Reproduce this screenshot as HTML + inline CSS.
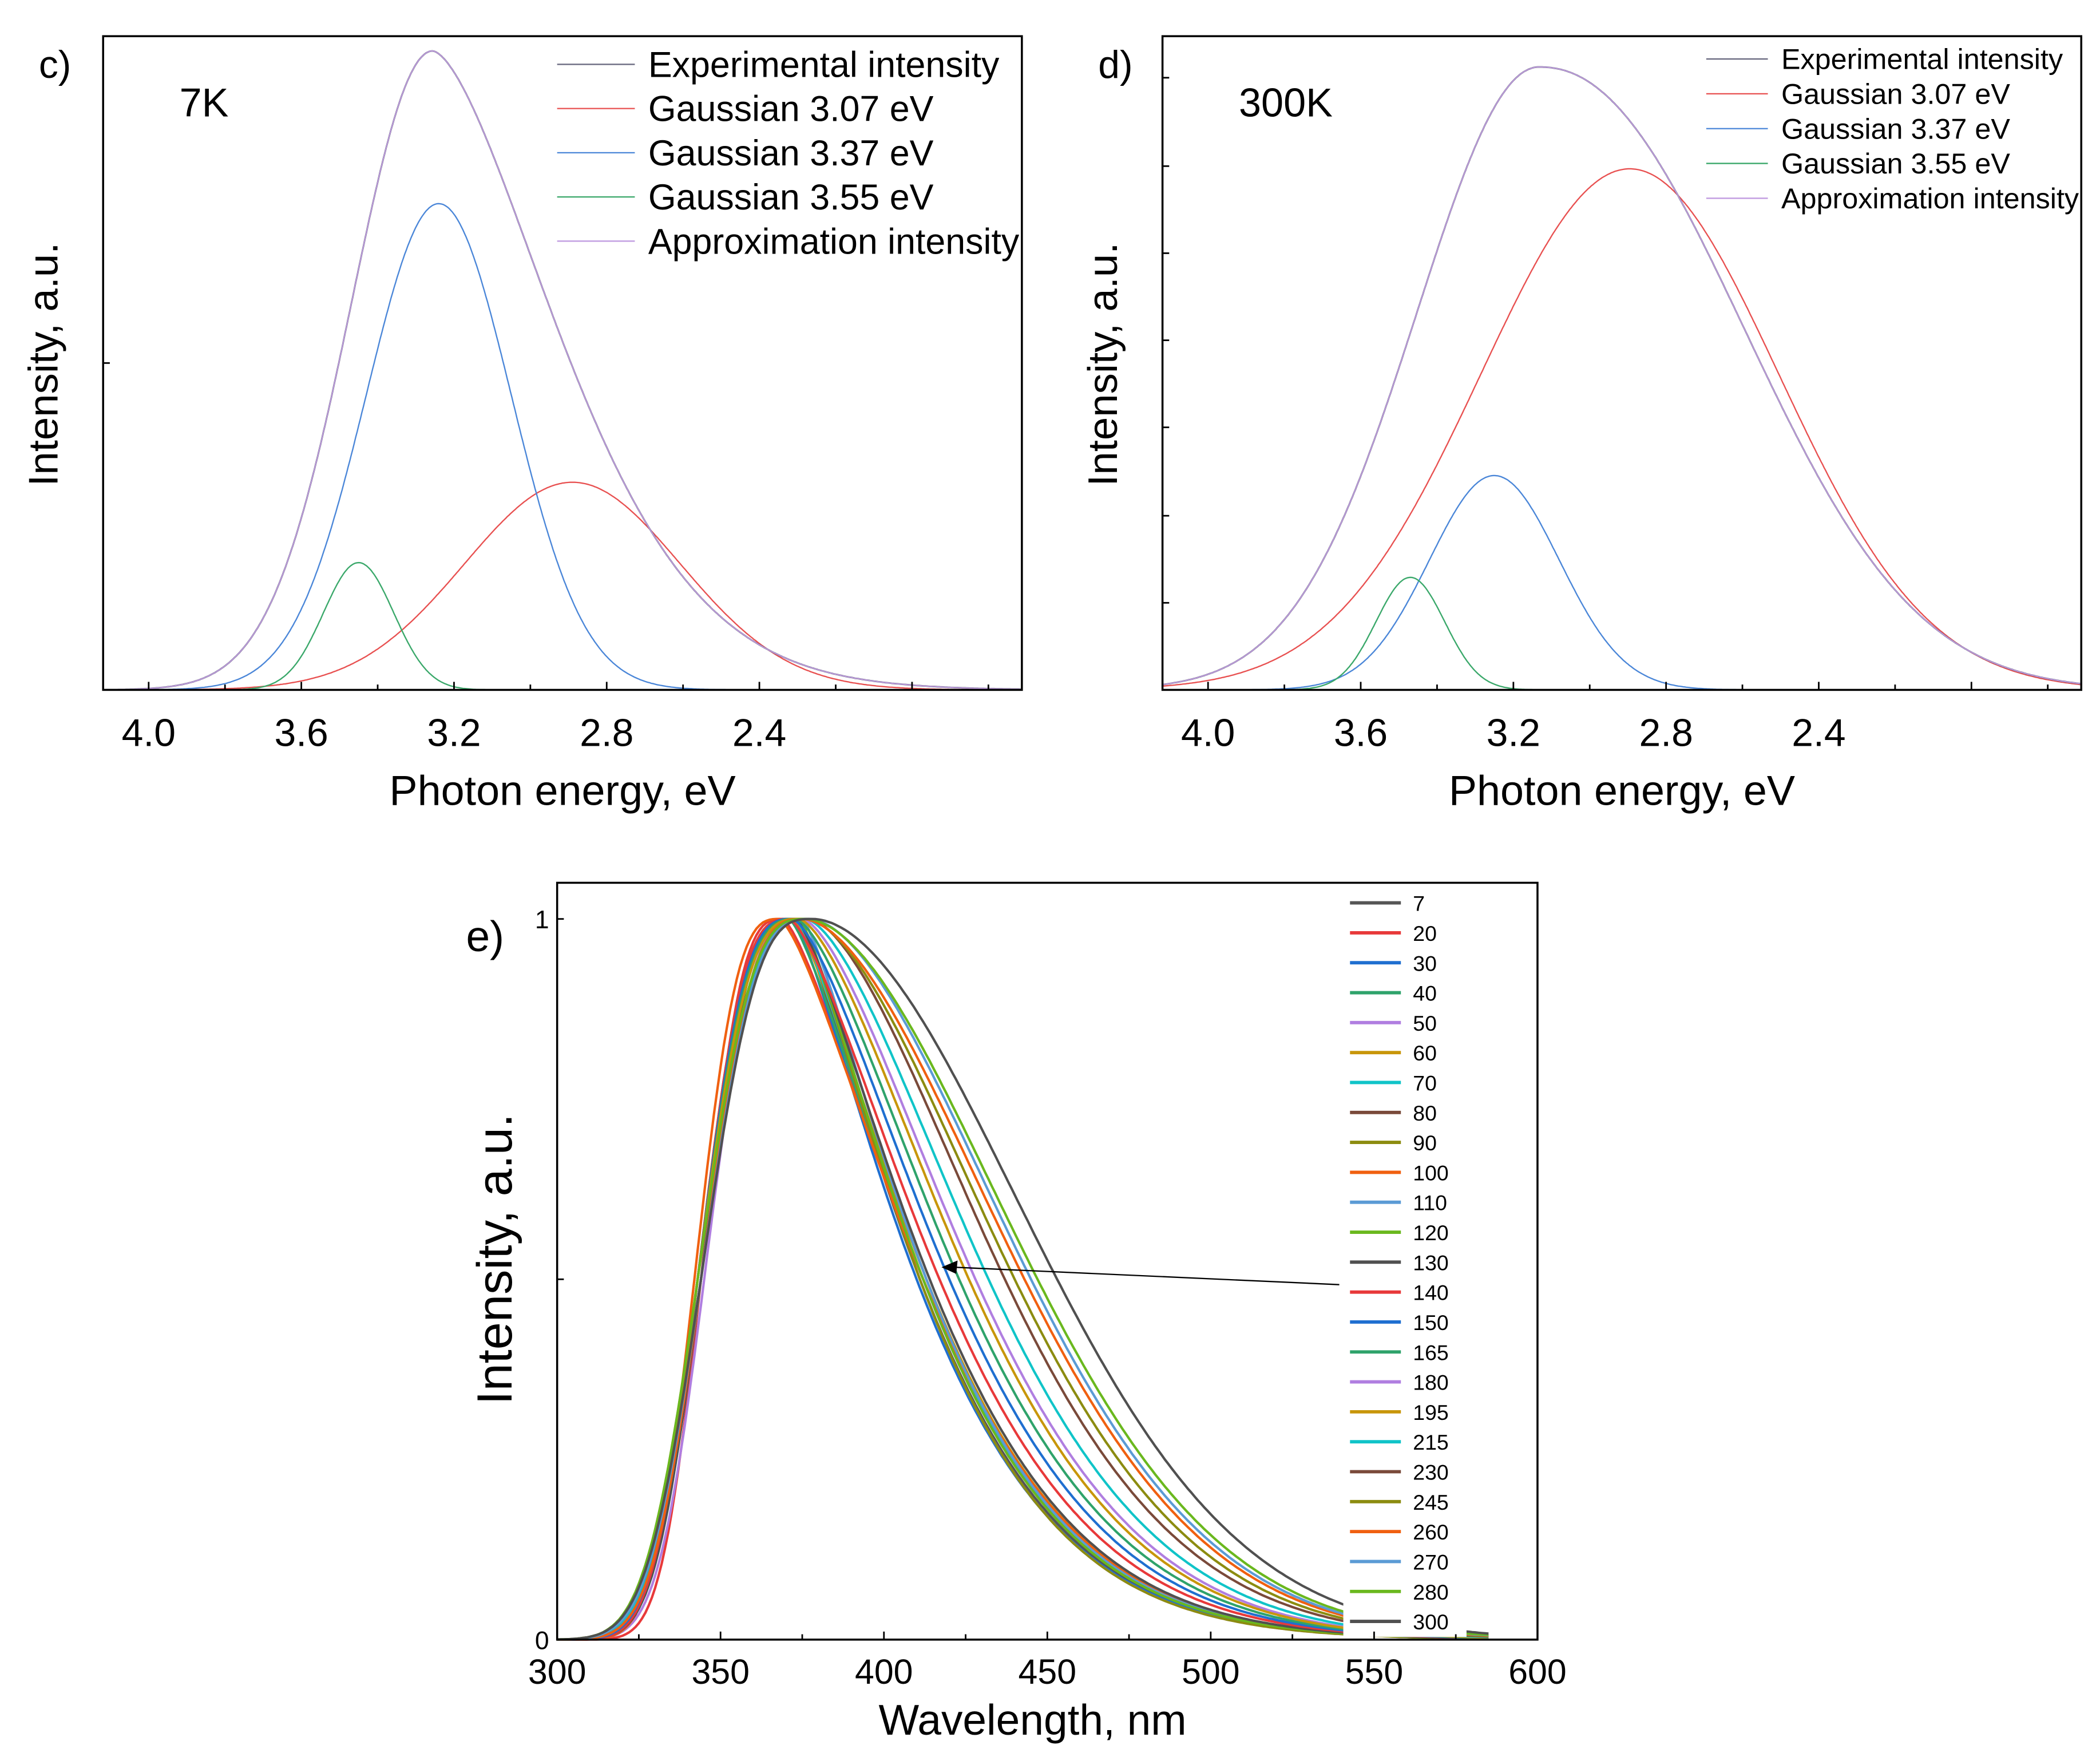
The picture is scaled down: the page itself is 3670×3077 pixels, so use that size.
<!DOCTYPE html>
<html><head><meta charset="utf-8"><style>
html,body{margin:0;padding:0;background:#fff}
svg{display:block}
text{font-family:"Liberation Sans",sans-serif;fill:#000}
</style></head><body>
<svg id="fig" width="3670" height="3077" viewBox="0 0 1568 1314.6" xmlns="http://www.w3.org/2000/svg">
<rect width="1568" height="1315" fill="#fff"/>
<g id="pc"></g>
<g id="pd"></g>
<g id="pe"></g>
</svg>
<script>
// Panel c (7K): gaussian components [center eV, height a.u., sigma eV]
const cCenters = [2.89, 3.24, 3.45];
const cHeights = [155, 363, 95];
const cSigmas = [0.283, 0.19, 0.092];
const cLabels = ["Gaussian 3.07 eV","Gaussian 3.37 eV","Gaussian 3.55 eV"];
// Panel c measured total: [peak eV, height, left half-width eV, right half-width eV, right shape exponent]
const cTotal = [3.256, 477, 0.25, 0.37, 1.6];
// Panel d (300K)
const dCenters = [2.895, 3.25, 3.47];
const dHeights = [389, 160, 84];
const dSigmas = [0.39, 0.17, 0.09];
const dTotal = [3.133, 465, 0.376, 0.6, 2.2];
const energyTicks = [4.0, 3.6, 3.2, 2.8, 2.4];
const compColors = ["#e85050","#4a86d8","#3aa86a"];
// Panel e
const temps = [7,20,30,40,50,60,70,80,90,100,110,120,130,140,150,165,180,195,215,230,245,260,270,280,300];
const peakNm = [373,369,372,371,374,372,373,375,374,368,375,374,373,371,372,373,375,374,376,377,376,375,377,376,378];
const halfRightNm = [411,412,410,412,411,413,412,413,411,412,413,412,414,417,420,423,428,426,432,437,440,443,445,447,453];
const halfLeftNm = [343,344,343,343,345,343,344,344,343,342,344,343,344,343,343,343,344,343,344,344,343,344,344,343,344];
const eColors = ["#555555","#e8393a","#1f6fd0","#2fa36b","#b07ee0","#c8960a","#10c4c8","#7a4a3a","#8c8c10","#f06010","#5b9bd5","#6ab81e","#505050","#e8393a","#1f6fd0","#2fa36b","#b07ee0","#c8960a","#10c4c8","#7a4a3a","#8c8c10","#f06010","#5b9bd5","#6ab81e","#505050"];
const wlTicks = [300,350,400,450,500,550,600];

const NS="http://www.w3.org/2000/svg";
function mk(parent,tag,attrs,txt){const e=document.createElementNS(NS,tag);for(const k in attrs)e.setAttribute(k,attrs[k]);if(txt!==undefined)e.textContent=txt;parent.appendChild(e);return e;}

function energyPanel(g, X0, cen, hei, sig, total, panelLabel, tempLabel, legendSize, legX, legY, legDy, yTicks){
  const L=X0, R=X0+686, T=27, B=515;
  const xs = e => (X0+34) + (4.0-e)*285;
  const ys = v => B - v;
  const gauss=(e,i,c,h,s)=>h[i]*Math.exp(-Math.pow(e-c[i],2)/(2*s[i]*s[i]));
  const eMin=4.0-(R-(X0+34))/285, eMax=4.0+34/285;
  const comps=[0,1,2].map(()=>[]), tot=[];
  for(let k=0;k<=600;k++){const e=eMax-(eMax-eMin)*k/600;
    for(let i=0;i<3;i++){const v=gauss(e,i,cen,hei,sig);comps[i].push([xs(e),ys(v)]);}
    const d=e-total[0];
    const v=d>0?total[1]*Math.exp(-0.693*Math.pow(d/total[2],2)):total[1]*Math.exp(-0.693*Math.pow(-d/total[3],total[4]));
    tot.push([xs(e),ys(v)]);}
  const pd=a=>"M"+a.map(p=>p[0].toFixed(1)+","+p[1].toFixed(1)).join("L");
  for(let i=0;i<3;i++){const p=mk(g,"path",{d:pd(comps[i]),fill:"none",stroke:compColors[i],"stroke-width":1});
    
    }
  const ex=mk(g,"path",{d:pd(tot),fill:"none",stroke:"#6a6a80","stroke-width":1.2});
  
  
  const ap=mk(g,"path",{d:pd(tot),fill:"none",stroke:"#c09be0","stroke-width":0.8});
  
  
  const fr=mk(g,"rect",{x:L,y:T,width:R-L,height:B-T,fill:"none",stroke:"#000","stroke-width":1.5});
  
  
  for(let k=0;k<20;k++){const e=4.0-0.2*k;if(e<eMin)break;const x=xs(e);
    mk(g,"line",{x1:x,y1:B,x2:x,y2:B-(k%2===0?6:4),stroke:"#000","stroke-width":1.2});}
  energyTicks.forEach(t=>{const tx=mk(g,"text",{x:xs(t),y:557,"font-size":29,"text-anchor":"middle"},t.toFixed(1));
    
    });
  yTicks.forEach(y=>mk(g,"line",{x1:L,y1:y,x2:L+5,y2:y,stroke:"#000","stroke-width":1.2}));
  const xt=mk(g,"text",{x:(L+R)/2,y:601,"font-size":31.5,"text-anchor":"middle"},"Photon energy, eV");
  
  
  const yt=mk(g,"text",{x:0,y:0,"font-size":31,"text-anchor":"middle",transform:`translate(${X0-34},272) rotate(-90)`},"Intensity, a.u.");
  
  
  const pl=mk(g,"text",{x:X0-48,y:58,"font-size":29},panelLabel);
  
  
  const tl=mk(g,"text",{x:X0+57,y:87,"font-size":30},tempLabel);
  
  
  const names=["Experimental intensity",cLabels[0],cLabels[1],cLabels[2],"Approximation intensity"];
  const cols=["#6a6a80",compColors[0],compColors[1],compColors[2],"#c09be0"];
  names.forEach((n,i)=>{const y=legY+i*legDy;
    mk(g,"line",{x1:legX,y1:y,x2:legX+(legendSize>24?58:46),y2:y,stroke:cols[i],"stroke-width":1});
    const t=mk(g,"text",{x:legX+(legendSize>24?68:56),y:y+legendSize*0.35,"font-size":legendSize},n);
    
    });
}
energyPanel(document.getElementById("pc"),77,cCenters,cHeights,cSigmas,cTotal,"c)","7K",26.8,416,48,33,[271]);
energyPanel(document.getElementById("pd"),868,dCenters,dHeights,dSigmas,dTotal,"d)","300K",21.5,1274,44,26,[58,124,189,254,319,385,450]);

// Panel e
(function(){
  const g=document.getElementById("pe");
  const L=416,R=1148,T=659,B=1224;
  const xs=w=>L+(w-300)*(R-L)/300;
  const ys=v=>B-v*(B-686);
  temps.forEach((t,i)=>{
    const hl=peakNm[i]-halfLeftNm[i], hr=halfRightNm[i]-peakNm[i];
    const pr=1.3+Math.min(0.7,Math.max(0,(hr-38)/43*0.7));
    let pts=[];
    for(let w=300;w<=585;w+=1){const d=w-peakNm[i];
      const v=d<0?Math.exp(-0.693*Math.pow(-d/hl,3)):Math.exp(-0.693*Math.pow(d/hr,pr));
      pts.push(xs(w).toFixed(1)+","+ys(v).toFixed(1));}
    const p=mk(g,"path",{d:"M"+pts.join("L"),fill:"none",stroke:eColors[i],"stroke-width":1.8});
    
    
  });
  const lb=mk(g,"rect",{x:1003,y:664,width:92,height:558,fill:"#fff"});
  
  
  const fr=mk(g,"rect",{x:L,y:T,width:R-L,height:B-T,fill:"none",stroke:"#000","stroke-width":1.5});
  
  
  for(let w=300;w<=600;w+=25){mk(g,"line",{x1:xs(w),y1:B,x2:xs(w),y2:B-(w%50===0?6:4),stroke:"#000","stroke-width":1.2});}
  wlTicks.forEach(w=>{const t=mk(g,"text",{x:xs(w),y:1257,"font-size":26,"text-anchor":"middle"},String(w));
    
    });
  [[0,"0"],[1,"1"]].forEach(([v,s])=>{mk(g,"line",{x1:L,y1:ys(v),x2:L+5,y2:ys(v),stroke:"#000","stroke-width":1.2});
    const t=mk(g,"text",{x:L-6,y:ys(v)+7,"font-size":19,"text-anchor":"end"},s);
    
    });
  mk(g,"line",{x1:L,y1:955,x2:L+5,y2:955,stroke:"#000","stroke-width":1.2});
  const xt=mk(g,"text",{x:771,y:1295,"font-size":32,"text-anchor":"middle"},"Wavelength, nm");
  
  
  const yt=mk(g,"text",{x:0,y:0,"font-size":37,"text-anchor":"middle",transform:"translate(382,940) rotate(-90)"},"Intensity, a.u.");
  
  
  const pl=mk(g,"text",{x:348,y:710,"font-size":32},"e)");
  
  
  temps.forEach((t,i)=>{const y=674+i*22.35;
    mk(g,"line",{x1:1008,y1:y,x2:1046,y2:y,stroke:eColors[i],"stroke-width":2.5});
    const tx=mk(g,"text",{x:1055,y:y+6,"font-size":16},String(t));
    
    });
  const ar=mk(g,"line",{x1:1000,y1:959,x2:712,y2:946,stroke:"#000","stroke-width":1});
  
  
  mk(g,"polygon",{points:"703,946 715,941 714,951",fill:"#000"});
})();
</script>
</body></html>
